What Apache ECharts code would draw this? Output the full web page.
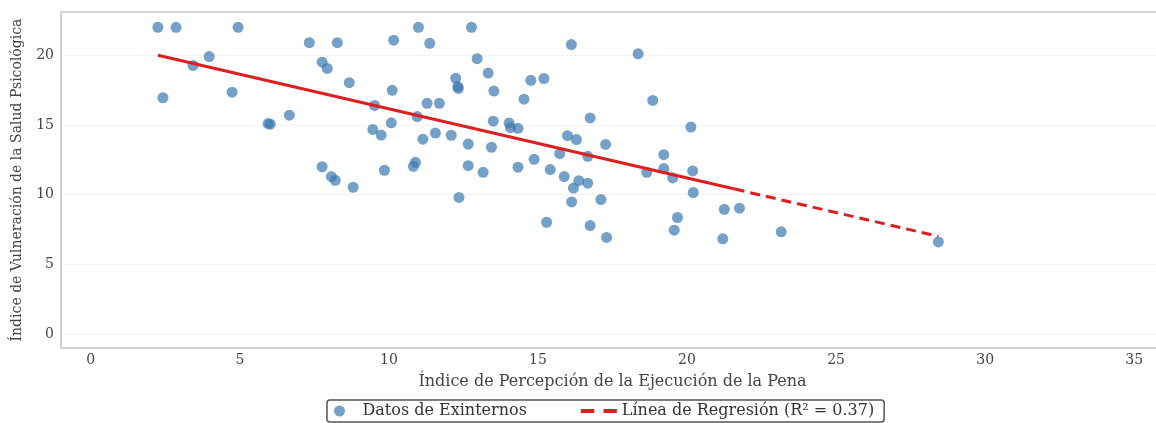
<!DOCTYPE html>
<html>
<head>
<meta charset="utf-8">
<script src="https://cdn.jsdelivr.net/npm/echarts@6/dist/echarts.min.js"></script>
<style>
  html, body { margin: 0; padding: 0; background: #fff; }
  #main { width: 1156px; height: 423px; }
</style>
</head>
<body>
<div id="main"></div>
<script>
// datos
var expX = [2.25, 2.86, 4.94, 10.99, 12.77, 2.42, 3.43, 3.97, 4.74, 5.95,
  6.02, 6.66, 7.33, 7.76, 7.76, 7.93, 8.07, 8.2, 8.27, 8.67,
  8.8, 9.52, 9.46, 9.74, 9.85, 10.11, 10.08, 10.16, 10.82, 10.89,
  10.95, 11.14, 11.28, 11.37, 11.56, 11.69, 12.09, 12.24, 12.31, 12.33,
  12.35, 12.66, 12.66, 12.96, 13.16, 13.33, 13.44, 13.52, 13.5, 14.03,
  14.08, 14.33, 14.33, 14.53, 14.76, 14.87, 15.2, 15.41, 15.73, 15.88,
  15.99, 16.12, 16.19, 16.37, 16.29, 16.67, 16.67, 16.75, 17.27, 18.36,
  18.85, 18.65, 19.22, 19.22, 19.52, 20.13, 20.19, 20.21, 16.13, 17.11,
  15.29, 16.75, 17.3, 19.68, 19.57, 21.25, 21.76, 21.2, 23.16, 28.43];
var expY = [22.0, 22.0, 22.0, 22.0, 22.0, 16.95, 19.27, 19.9, 17.35, 15.1,
  15.05, 15.7, 20.9, 12.0, 19.5, 19.05, 11.3, 11.03, 20.9, 18.03,
  10.53, 16.4, 14.68, 14.27, 11.75, 17.48, 15.15, 21.08, 12.03, 12.32,
  15.6, 13.98, 16.55, 20.85, 14.42, 16.55, 14.26, 18.34, 17.75, 17.62,
  9.8, 13.63, 12.08, 19.75, 11.6, 18.72, 13.4, 17.43, 15.27, 15.13,
  14.8, 14.76, 11.97, 16.85, 18.2, 12.53, 18.33, 11.8, 12.94, 11.3,
  14.23, 20.76, 10.47, 11.0, 13.95, 12.75, 10.82, 15.5, 13.6, 20.1,
  16.76, 11.6, 12.87, 11.87, 11.2, 14.85, 11.7, 10.15, 9.48, 9.65,
  8.02, 7.78, 6.93, 8.36, 7.45, 8.95, 9.03, 6.83, 7.33, 6.61];

// recta de regresion: inicio, corte solido/discontinuo, fin
var regX = [2.25, 21.6, 28.43];
var regY = [20.0, 10.4, 7.01];

var xTicks = [0, 5, 10, 15, 20, 25, 30, 35];
var yTicks = [0, 5, 10, 15, 20];

var serif = 'DejaVu Serif';
var chart = echarts.init(document.getElementById('main'));

function pts(xs, ys, from, to) {
  var out = [];
  for (var i = from; i < to; i++) out.push([xs[i], ys[i]]);
  return out;
}

var regName = 'Línea de Regresión (R² = 0.37)';
// icono de leyenda: dos trazos
var dashIcon = 'path://M0,0h13v4h-13z M22,0h13v4h-13z';

chart.setOption({
  animation: false,
  backgroundColor: '#fff',
  textStyle: { fontFamily: serif },
  grid: {
    left: 61, top: 12, right: -8, bottom: 75,
    outerBoundsMode: 'none',
    containLabel: false,
    show: true, borderColor: '#d9d9d9', borderWidth: 2
  },
  legend: {
    bottom: 1,
    left: 327,
    data: [
      { name: 'Datos de Exinternos', icon: 'circle' },
      { name: regName, icon: dashIcon }
    ],
    itemWidth: 36,
    itemHeight: 11,
    itemGap: 54,
    padding: [3, 10, 3, 7],
    borderColor: '#555',
    borderWidth: 1.5,
    borderRadius: 3,
    textStyle: { fontFamily: serif, fontSize: 16, color: '#333' }
  },
  xAxis: {
    type: 'value',
    min: -1, max: 36,
    name: 'Índice de Percepción de la Ejecución de la Pena',
    nameLocation: 'middle',
    nameGap: 26,
    nameTextStyle: { fontFamily: serif, fontSize: 16, color: '#444' },
    axisLine: { show: true, onZero: false, lineStyle: { color: '#d0d0d0', width: 2 } },
    axisTick: { show: false, customValues: xTicks },
    splitLine: { show: false },
    axisLabel: {
      margin: 5, fontFamily: serif, fontSize: 14, color: '#444',
      customValues: xTicks
    }
  },
  yAxis: {
    type: 'value',
    min: -1, max: 23.1,
    name: 'Índice de Vulneración de la Salud Psicológica',
    nameLocation: 'middle',
    nameGap: 37,
    nameTextStyle: { fontFamily: serif, fontSize: 14, color: '#444' },
    axisLine: { show: true, onZero: false, lineStyle: { color: '#d0d0d0', width: 2 } },
    axisTick: { show: false, customValues: yTicks },
    splitLine: { show: true, lineStyle: { color: '#f2f2f2', width: 1 } },
    axisLabel: {
      margin: 7, fontFamily: serif, fontSize: 14, color: '#444',
      customValues: yTicks
    }
  },
  series: [
    {
      name: 'Datos de Exinternos',
      type: 'scatter',
      symbolSize: 11,
      data: pts(expX, expY, 0, expX.length),
      itemStyle: { color: '#3a78b0', opacity: 0.7 },
      z: 2
    },
    {
      name: regName,
      type: 'line',
      data: pts(regX, regY, 1, 3),
      symbol: 'none',
      lineStyle: { color: '#dd1f1f', width: 3, type: [10, 6] },
      itemStyle: { color: '#dd1f1f' },
      z: 3
    },
    {
      name: regName,
      type: 'line',
      data: pts(regX, regY, 0, 2),
      symbol: 'none',
      lineStyle: { color: '#dd1f1f', width: 3 },
      itemStyle: { color: '#dd1f1f' },
      z: 3
    }
  ]
});
</script>
</body>
</html>
